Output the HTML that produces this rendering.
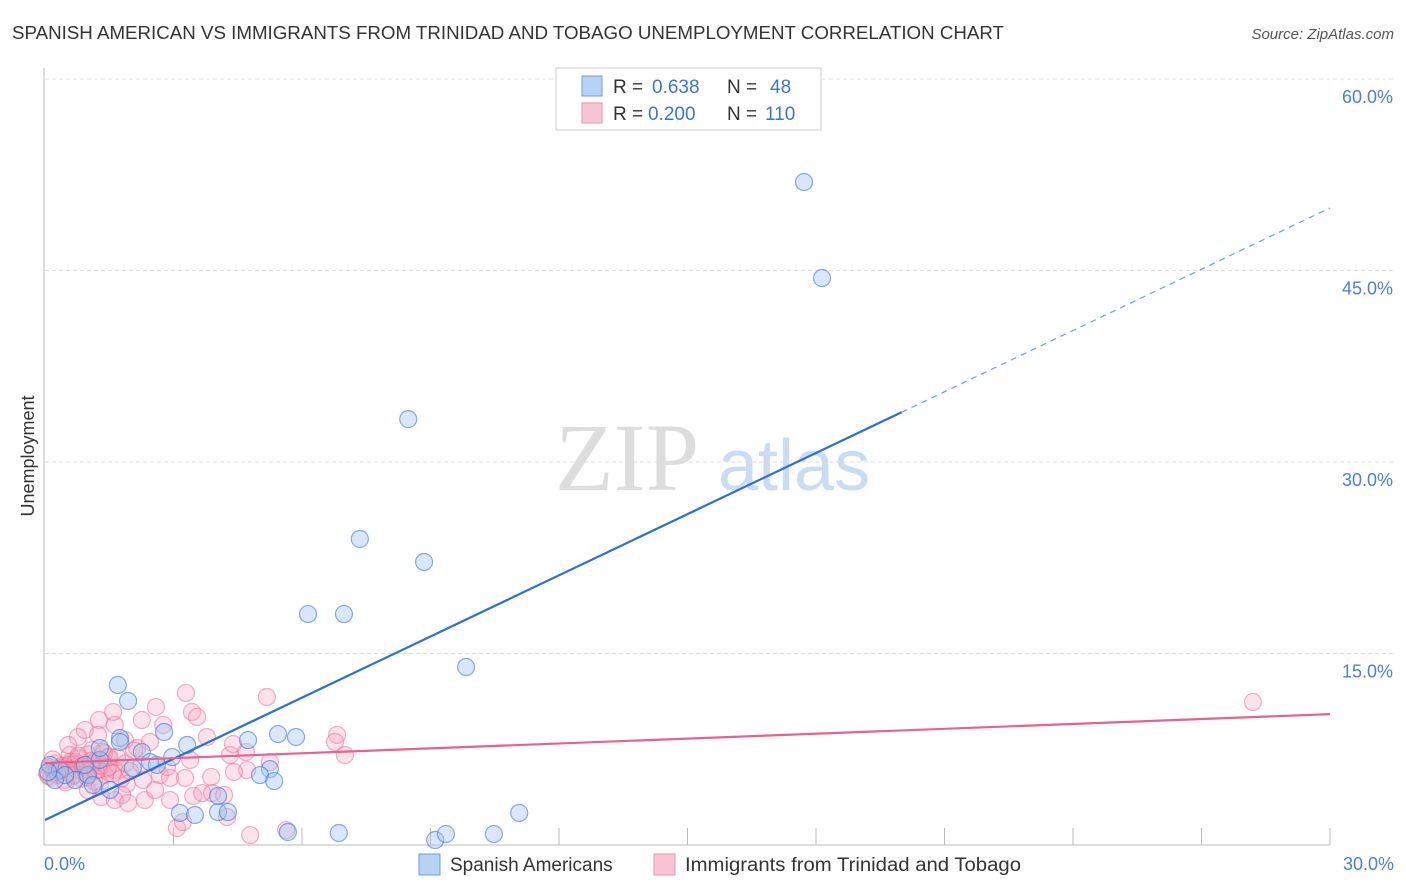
<!DOCTYPE html>
<html><head><meta charset="utf-8">
<style>
body{margin:0;background:#fff;font-family:"Liberation Sans",sans-serif;}
#wrap{position:relative;width:1406px;height:892px;overflow:hidden;}
</style></head>
<body>
<div id="wrap">
<svg id="chart" width="1406" height="892" xmlns="http://www.w3.org/2000/svg">
<text x="12" y="39" font-size="18" fill="#333" textLength="992" lengthAdjust="spacingAndGlyphs">SPANISH AMERICAN VS IMMIGRANTS FROM TRINIDAD AND TOBAGO UNEMPLOYMENT CORRELATION CHART</text>
<text x="1394" y="39" font-size="15" fill="#555" font-style="italic" text-anchor="end">Source: ZipAtlas.com</text>
<text x="34" y="456" font-size="18" fill="#333" text-anchor="middle" transform="rotate(-90 34 456)">Unemployment</text>
<text x="555" y="490" font-size="96" fill="#ddd" font-family="Liberation Serif">ZIP</text>
<text x="718" y="490" font-size="72" fill="#c9dcf2">atlas</text>
<g id="grid"></g><g id="pinkpts"></g><g id="bluepts"></g><g id="lines"></g>
<g>
<rect x="556" y="68" width="265" height="62" fill="#fff" stroke="#ccc"/>
<rect x="582" y="76" width="20" height="20" fill="#b8d2f4" stroke="#6d9fe0"/>
<rect x="582" y="103" width="20" height="20" fill="#f9c5d5" stroke="#ee8fae"/>
<g font-size="19">
<text x="613" y="93" fill="#333">R =</text><text x="652" y="93" fill="#3d74d4">0.638</text>
<text x="727" y="93" fill="#333">N =</text><text x="770" y="93" fill="#3d74d4">48</text></g>
<g font-size="19">
<text x="613" y="120" fill="#333">R =</text><text x="648" y="120" fill="#3d74d4">0.200</text>
<text x="727" y="120" fill="#333">N =</text><text x="765" y="120" fill="#3d74d4">110</text></g>
</g>
<g>
<rect x="419" y="854" width="21" height="21" fill="#b8d2f4" stroke="#6d9fe0"/>
<text x="450" y="871" font-size="19" fill="#333">Spanish Americans</text>
<rect x="654" y="854" width="21" height="21" fill="#f9c5d5" stroke="#ee8fae"/>
<text x="685" y="871" font-size="19" fill="#333" textLength="336" lengthAdjust="spacingAndGlyphs">Immigrants from Trinidad and Tobago</text>
</g>
</svg>
</div>
<script>
const yTicks=[15,30,45,60];
const yTickLabels=["15.0%","30.0%","45.0%","60.0%"];
const xTickLabels=["0.0%","30.0%"];
const blueX=[17.72,18.14,8.48,7.35,8.85,6.14,6.98,9.83,1.70,1.94,5.44,5.86,4.74,3.32,2.78,1.75,2.26,2.61,5.25,5.02,5.35,1.75,0.12,0.35,0.70,1.00,1.28,2.05,1.52,3.15,3.50,4.04,4.27,4.04,5.67,6.86,9.11,9.36,10.48,11.07,1.28,0.47,0.23,0.93,2.45,2.97,0.07,1.12];
const blueY=[51.93,44.41,33.36,23.97,22.17,18.09,18.09,13.94,12.53,11.28,8.69,8.46,8.22,7.83,8.85,8.38,7.28,6.27,5.95,5.48,5.01,8.07,6.27,5.87,5.09,5.48,6.66,6.03,4.31,2.51,2.35,2.58,2.58,3.84,1.02,0.94,0.39,0.86,0.86,2.51,7.60,5.48,5.09,6.27,6.50,6.89,5.72,4.70];
const pinkX=[28.20,3.29,5.18,2.59,3.43,3.55,1.26,2.26,2.76,1.63,3.78,0.77,1.87,6.82,6.77,7.00,4.69,5.25,4.32,4.72,4.41,2.68,2.92,3.27,3.88,2.29,1.91,1.80,1.31,1.63,1.94,2.33,2.92,3.46,3.67,3.90,4.18,4.25,4.79,5.63,3.08,3.22,2.57,2.26,1.47,1.10,0.58,0.54,0.93,1.24,1.63,1.00,0.70,2.15,2.45,1.59,2.85,3.39,4.39,
0.05,0.10,0.15,0.20,0.25,0.30,0.35,0.40,0.45,0.50,0.55,0.60,0.65,0.70,0.75,0.80,0.85,0.90,0.95,1.00,1.05,1.10,1.15,1.20,1.25,1.30,1.35,1.40,1.45,1.50,0.08,0.18,0.28,0.38,0.48,0.58,0.68,0.78,0.88,0.98,1.08,1.18,1.28,1.38,1.48,1.58,1.68,1.78,1.88,1.98,2.08];
const pinkY=[11.20,11.91,11.59,10.81,10.42,10.03,9.79,9.79,9.40,9.40,8.46,8.46,8.22,8.62,8.07,7.05,7.28,6.50,7.05,5.87,5.72,5.48,5.25,5.25,5.33,5.09,4.78,3.92,3.76,3.52,3.29,3.52,3.52,3.84,4.07,4.07,3.92,2.19,0.78,1.17,1.33,1.80,4.31,6.27,6.89,7.44,7.05,7.83,9.01,8.62,5.87,4.31,6.50,7.60,8.07,10.42,6.11,6.66,7.91,
5.6,6.1,5.3,5.9,6.4,5.5,5.8,6.2,5.1,6.0,5.7,6.5,5.4,6.3,5.9,6.8,5.2,6.1,5.6,7.1,5.8,6.4,5.0,6.6,5.9,6.2,7.3,5.5,6.0,6.9,5.4,6.7,5.7,6.0,4.9,6.3,5.5,7.0,6.2,5.3,6.6,5.8,4.6,7.2,6.1,5.6,6.9,5.2,6.4,5.8,7.4];
const blueLine=[[0,1.96],[20,33.9],[30,49.9]];
const pinkLine=[[0,6.42],[30,10.25]];

const X0=45,X1=1330,Y0=845,Y1=79;
const sx=v=>X0+(v/30)*(X1-X0);
const sy=v=>Y0-(v/60)*(Y0-Y1);
const NS="http://www.w3.org/2000/svg";
function mk(tag,attrs,parent){const e=document.createElementNS(NS,tag);for(const k in attrs)e.setAttribute(k,attrs[k]);parent.appendChild(e);return e;}
const grid=document.getElementById('grid');
yTicks.forEach((t,i)=>{
 const g=mk('line',{x1:X0,x2:1394,y1:sy(t),y2:sy(t),stroke:'#ddd','stroke-dasharray':'4,3'},grid);
 
 
 const tx=mk('text',{x:1393,y:sy(t)+24,'font-size':18,fill:'#4a7fd6','text-anchor':'end'},grid);
 tx.textContent=yTickLabels[i];
 
 
});
const ya=mk('line',{x1:X0-1,x2:X0-1,y1:68,y2:Y0,stroke:'#bbb'},grid);


const xa=mk('line',{x1:X0-1,x2:X1,y1:Y0,y2:Y0,stroke:'#bbb'},grid);


for(let k=1;k<=10;k++){
 const x=X0+k*(X1-X0)/10;
 const t=mk('line',{x1:x,x2:x,y1:Y0,y2:Y0-17,stroke:'#bbb'},grid);
 
 
}
[[0,'start',44],[30,'end',1394]].forEach((d,i)=>{
 const t=mk('text',{x:d[2],y:870,'font-size':18,fill:'#4a7fd6','text-anchor':d[1]},grid);
 t.textContent=xTickLabels[i];
 
 
});
const pg=document.getElementById('pinkpts');
pinkX.forEach((v,i)=>{
 const c=mk('circle',{cx:sx(v),cy:sy(pinkY[i]),r:8.5,fill:'rgba(246,160,188,0.3)',stroke:'rgba(236,110,150,0.55)','stroke-width':1.2},pg);
 
 
});
const bg=document.getElementById('bluepts');
blueX.forEach((v,i)=>{
 const c=mk('circle',{cx:sx(v),cy:sy(blueY[i]),r:8.5,fill:'rgba(160,196,240,0.4)',stroke:'rgba(60,120,210,0.6)','stroke-width':1.2},bg);
 
 
});
const lg=document.getElementById('lines');
const b1=mk('line',{x1:sx(blueLine[0][0]),y1:sy(blueLine[0][1]),x2:sx(blueLine[1][0]),y2:sy(blueLine[1][1]),stroke:'#2c6fd6','stroke-width':2.2},lg);


const b2=mk('line',{x1:sx(blueLine[1][0]),y1:sy(blueLine[1][1]),x2:sx(blueLine[2][0]),y2:sy(blueLine[2][1]),stroke:'#6f9ee0','stroke-width':1.2,'stroke-dasharray':'6,5'},lg);


const p1=mk('line',{x1:sx(pinkLine[0][0]),y1:sy(pinkLine[0][1]),x2:sx(pinkLine[1][0]),y2:sy(pinkLine[1][1]),stroke:'#e8618f','stroke-width':2.2},lg);


</script>
</body></html>
